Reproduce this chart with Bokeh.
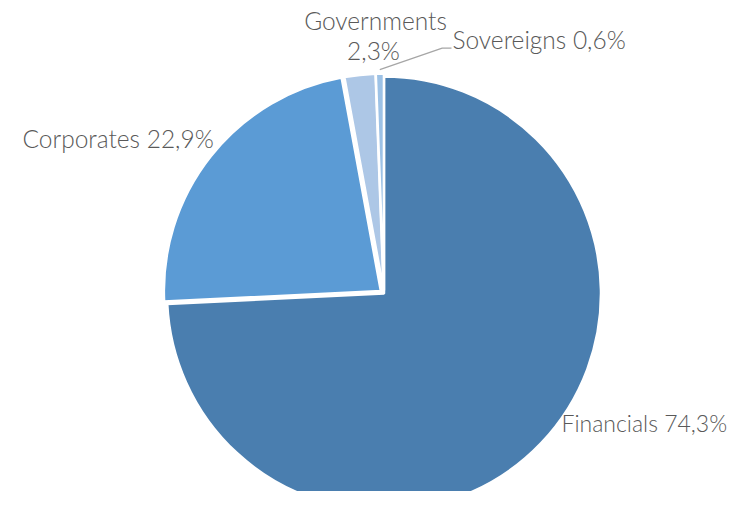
import math
from bokeh.plotting import figure
from bokeh.models import Range1d, ColumnDataSource
from bokeh.core.properties import value
from bokeh.embed import file_html
from bokeh.resources import INLINE

# ---- data ----
categories = ["Financials", "Corporates", "Governments", "Sovereigns"]
shares = [74.3, 22.9, 2.3, 0.6]
share_labels = ["74,3%", "22,9%", "2,3%", "0,6%"]
colors = ["#4a7eaf", "#5b9bd5", "#adc7e6", "#9dc2e6"]

# ---- geometry (screen pixel coords, y down -> data y = -screen y) ----
W, H = 729, 491
CX, CY, R = 383.5, 293.0, 217.0
explode = [0.0, 4.0, 3.0, 3.0]

p = figure(width=W, height=H, output_backend="svg", toolbar_location=None,
           x_range=Range1d(0, W), y_range=Range1d(-H, 0),
           min_border=0, outline_line_color=None)
p.axis.visible = False
p.grid.visible = False
p.background_fill_color = "white"

total = sum(shares)
xs, ys, starts, ends, mids = [], [], [], [], []
cum = 0.0
for s, e in zip(shares, explode):
    a0 = math.pi / 2 - 2 * math.pi * cum / total
    a1 = math.pi / 2 - 2 * math.pi * (cum + s) / total
    mid = (a0 + a1) / 2
    xs.append(CX + e * math.cos(mid))
    ys.append(-CY + e * math.sin(mid))
    starts.append(a0)
    ends.append(a1)
    mids.append(mid)
    cum += s

src = ColumnDataSource(dict(x=xs, y=ys, start=starts, end=ends, color=colors))
p.wedge(x="x", y="y", radius=R, start_angle="start", end_angle="end",
        direction="clock", fill_color="color", line_color="white",
        line_width=2.5, source=src)

# leader line for Sovereigns
lx0 = xs[3] + (R + 4) * math.cos(mids[3])
ly0 = ys[3] + (R + 4) * math.sin(mids[3])
p.line([lx0, 441.7, 451.0], [ly0, -47.7, -47.7], line_color="#a6a6a6", line_width=1.3)

font = value("Lato Light, Lato")
tcol = "#595959"
DY = 9  # baseline correction

def label(x, y, txt, align="left", fs="24.5px"):
    p.text(x=[x], y=[-(y - DY)], text=[txt], text_font=font, text_font_size=fs,
           text_color=tcol, text_align=align, text_baseline="alphabetic")

label(561, 431, categories[0] + "  " + share_labels[0], "left", "23px")
label(22, 147, categories[1] + " " + share_labels[1])
label(375, 29, categories[2], "center")
label(373, 59, share_labels[2], "center")
label(452, 48, categories[3] + " " + share_labels[3])

open("out.html", "w").write(file_html(p, INLINE))
